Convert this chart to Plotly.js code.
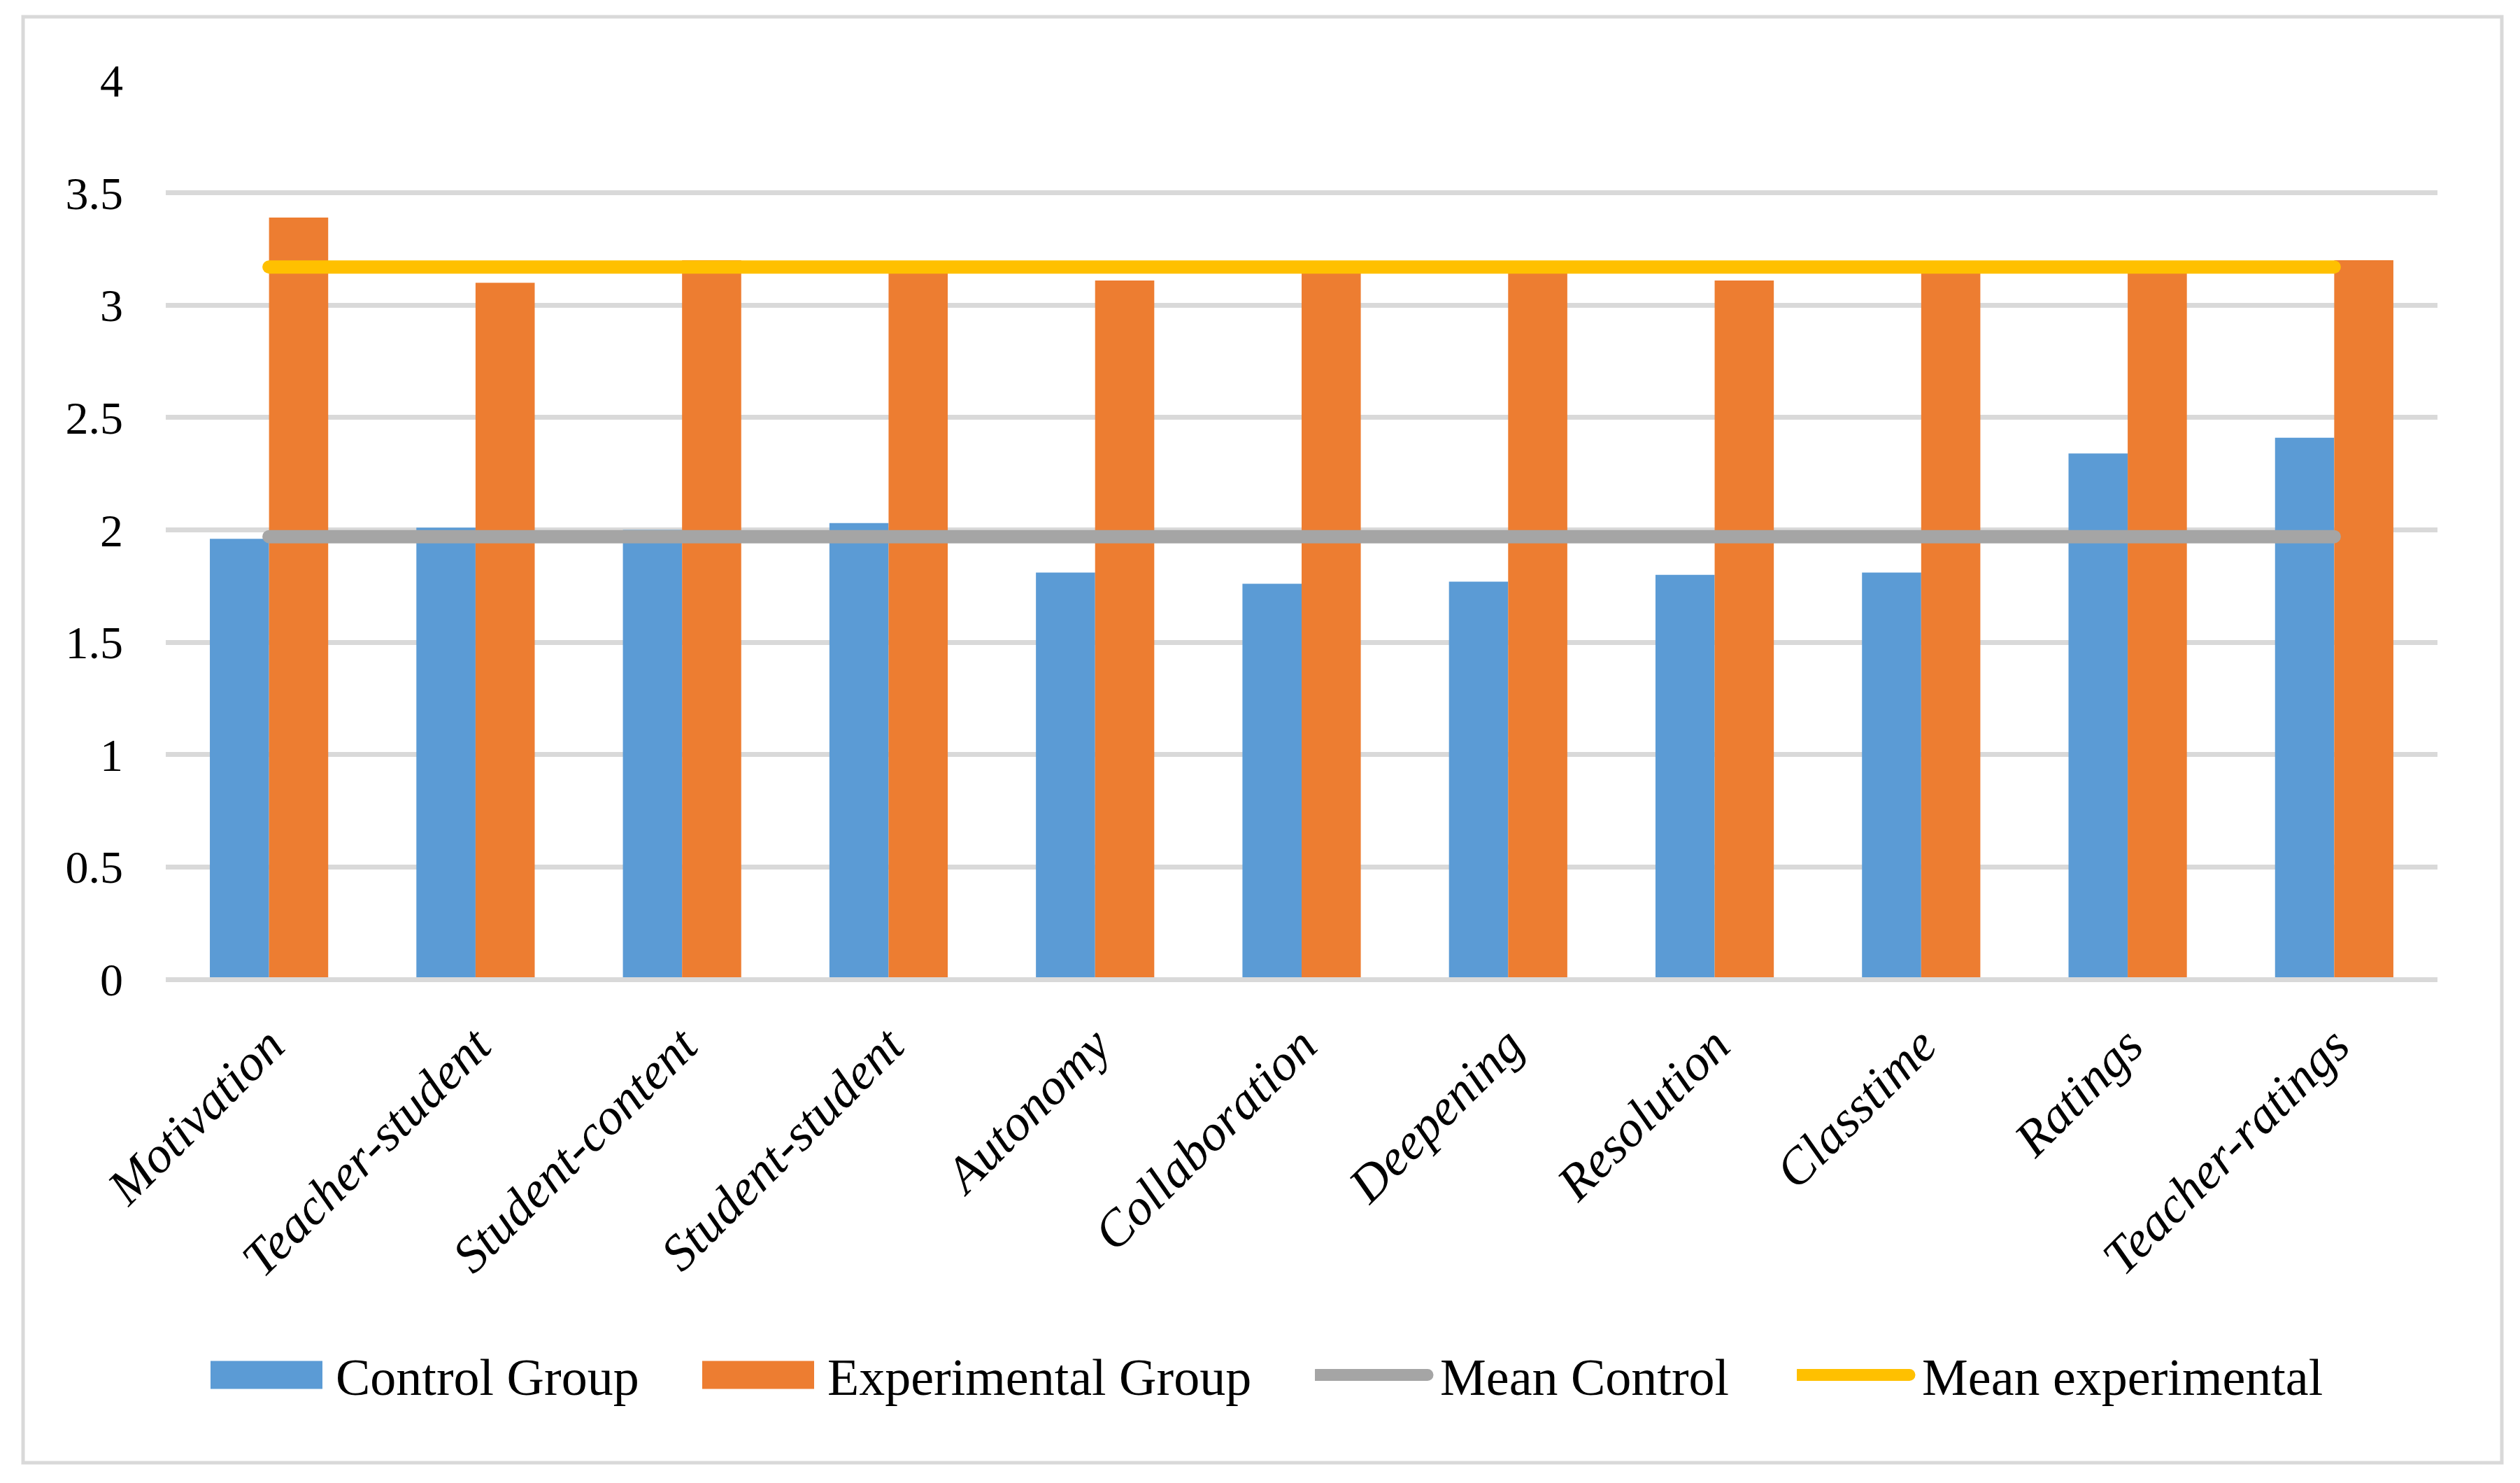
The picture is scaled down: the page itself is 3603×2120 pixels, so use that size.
<!DOCTYPE html>
<html><head><meta charset="utf-8">
<script src="https://cdn.plot.ly/plotly-3.0.1.min.js"></script>
<style>
html,body{margin:0;padding:0;background:#fff;}
#chart{width:3603px;height:2120px;}
.scatterlayer .js-line{stroke-linecap:round;}
g.legendpoints path{transform:none !important; d:path('M0,-20H160V20H0Z') !important;}
.legendlines path{d:path('M1,0H161') !important; stroke-width:17px !important; stroke-linecap:round !important;}
</style></head><body><div id="chart"></div>
<script>
const categories = ['Motivation','Teacher-student','Student-content','Student-student','Autonomy','Collaboration','Deepening','Resolution','Classtime','Ratings','Teacher-ratings'];
const controlGroup = [1.96, 2.01, 2.00, 2.03, 1.81, 1.76, 1.77, 1.80, 1.81, 2.34, 2.41];
const experimentalGroup = [3.39, 3.10, 3.20, 3.15, 3.11, 3.16, 3.15, 3.11, 3.15, 3.15, 3.20];
const meanControl = [1.97, 1.97, 1.97, 1.97, 1.97, 1.97, 1.97, 1.97, 1.97, 1.97, 1.97];
const meanExperimental = [3.17, 3.17, 3.17, 3.17, 3.17, 3.17, 3.17, 3.17, 3.17, 3.17, 3.17];
const seriesNames = ['Control Group', 'Experimental Group', 'Mean Control', 'Mean experimental'];
const yTickValues = [0, 0.5, 1, 1.5, 2, 2.5, 3, 3.5, 4];
const yTickLabels = ['0', '0.5', '1', '1.5', '2', '2.5', '3', '3.5', '4'];

const W = 3603, H = 2120;
const M = {l: 237, r: 118, t: 115, b: 720};
const pw = W - M.l - M.r, ph = H - M.t - M.b;
const serif = 'Liberation Serif, Times New Roman, serif';
const px2x = p => (p - M.l) / pw;
const py2y = p => (H - M.b - p) / ph;

const colors = ['#5b9bd5', '#ed7d31', '#a5a5a5', '#ffc000'];
const legendX = [301, 1004, 1880, 2569];

function legendCfg(i) {
  return {
    orientation: 'h', xref: 'container', yref: 'container',
    x: legendX[i] / W, y: 1 - 1966 / H, xanchor: 'left', yanchor: 'middle',
    bgcolor: 'rgba(0,0,0,0)', borderwidth: 0, itemwidth: 169,
    font: {family: serif, size: 74, color: '#000'}, itemclick: false, itemdoubleclick: false
  };
}

const traces = [
  {type: 'bar', name: seriesNames[0], x: categories, y: controlGroup, marker: {color: colors[0]}, legend: 'legend', hoverinfo: 'skip'},
  {type: 'bar', name: seriesNames[1], x: categories, y: experimentalGroup, marker: {color: colors[1]}, legend: 'legend2', hoverinfo: 'skip'},
  {type: 'scatter', mode: 'lines', name: seriesNames[2], x: categories, y: meanControl, line: {color: colors[2], width: 19}, legend: 'legend3', hoverinfo: 'skip'},
  {type: 'scatter', mode: 'lines', name: seriesNames[3], x: categories, y: meanExperimental, line: {color: colors[3], width: 19}, legend: 'legend4', hoverinfo: 'skip'}
];

const layout = {
  width: W, height: H, margin: M,
  paper_bgcolor: '#fff', plot_bgcolor: '#fff',
  barmode: 'group', bargap: 0.427, bargroupgap: 0,
  showlegend: true,
  legend: legendCfg(0), legend2: legendCfg(1), legend3: legendCfg(2), legend4: legendCfg(3),
  xaxis: {
    type: 'category', tickangle: -45, showgrid: false, zeroline: false, showline: false, ticks: '',
    tickfont: {family: serif, size: 73, color: '#000', style: 'italic'}, ticklabelstandoff: 36
  },
  yaxis: {
    range: [0, 4], tickvals: yTickValues, ticktext: yTickLabels, ticks: '', showline: false,
    gridcolor: '#d9d9d9', gridwidth: 7, zeroline: true, zerolinecolor: '#d9d9d9', zerolinewidth: 7,
    zerolinelayer: 'above traces',
    tickfont: {family: serif, size: 66, color: '#000'}, ticklabelstandoff: 60
  },
  shapes: [{
    type: 'rect', xref: 'paper', yref: 'paper',
    x0: px2x(33), x1: px2x(3577), y0: py2y(2091), y1: py2y(24),
    line: {color: '#d9d9d9', width: 5}, fillcolor: 'rgba(0,0,0,0)', layer: 'below'
  }]
};

Plotly.newPlot('chart', traces, layout, {staticPlot: true, displayModeBar: false});
</script></body></html>
